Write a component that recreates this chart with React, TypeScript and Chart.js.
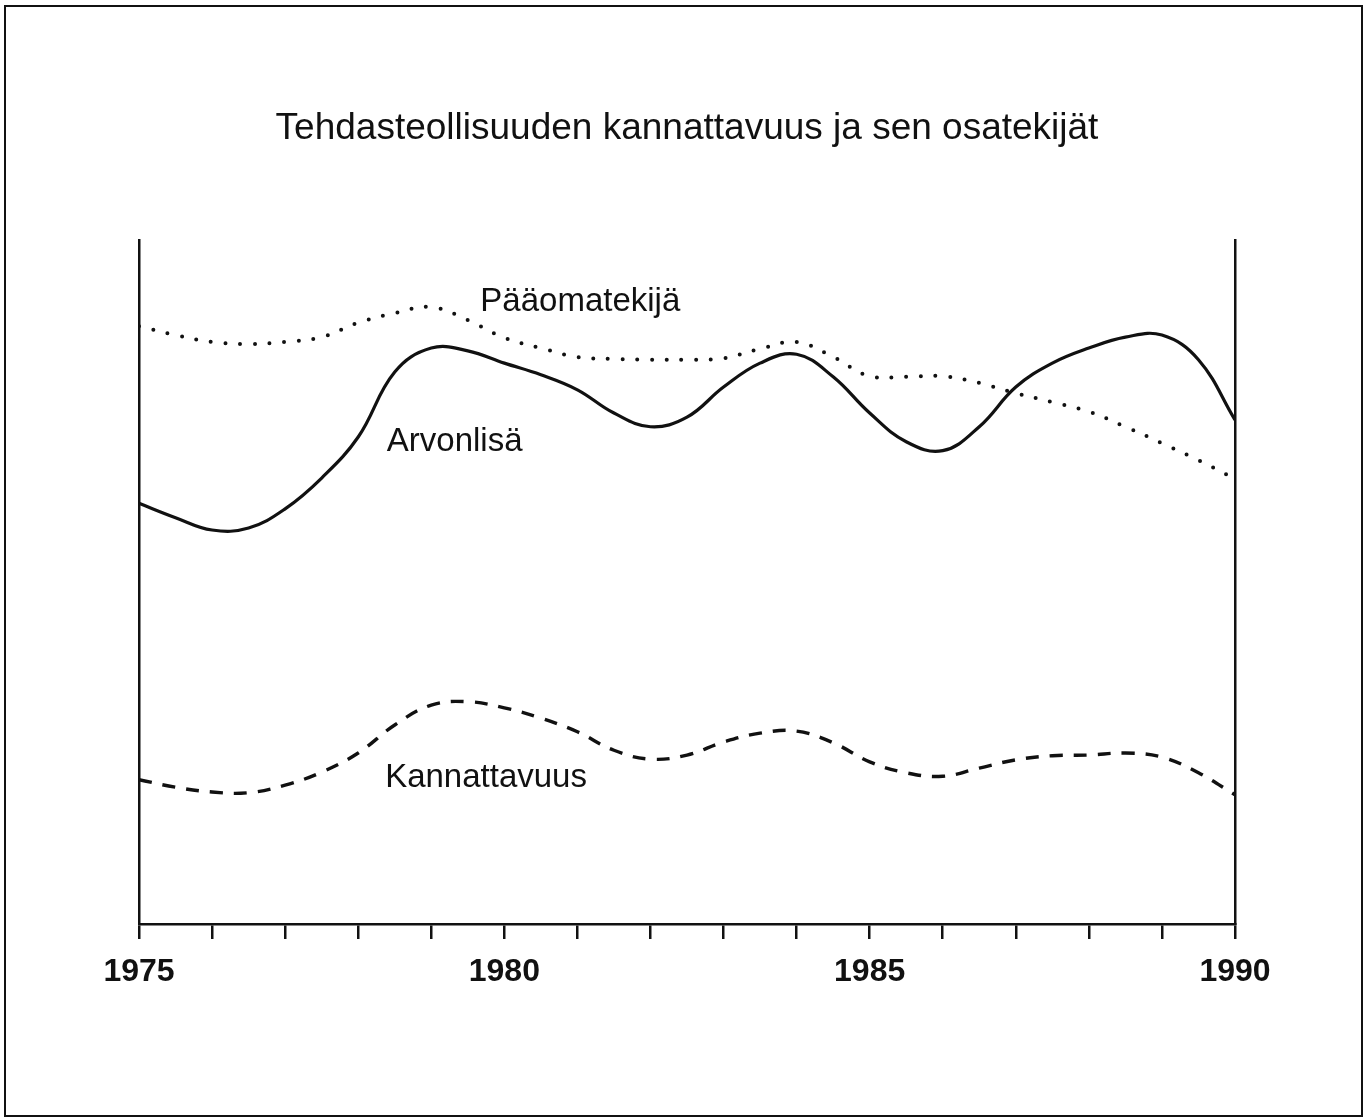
import React, { useEffect, useRef } from "react";
import { Chart, registerables } from "chart.js";

Chart.register(...registerables);

const TITLE = "Tehdasteollisuuden kannattavuus ja sen osatekijät";

const years = [
  1975, 1975.5, 1976, 1976.5, 1977, 1977.5, 1978, 1978.5, 1979, 1979.5,
  1980, 1980.5, 1981, 1981.5, 1982, 1982.5, 1983, 1983.5, 1984, 1984.5,
  1985, 1985.5, 1986, 1986.5, 1987, 1987.5, 1988, 1988.5, 1989, 1989.5, 1990,
];

// Index values (0 = x axis, 100 = top of the frame lines)
const arvonlisa = [
  61.5, 59.4, 57.6, 57.9, 60.7, 65.2, 71.2, 80.7, 84.2, 83.8,
  82.0, 80.3, 78.1, 74.7, 72.7, 74.1, 78.5, 82.0, 83.3, 80.0,
  74.7, 70.5, 69.2, 72.7, 78.5, 82.0, 84.2, 85.8, 86.1, 82.5, 73.7,
];

const paaomatekija = [
  87.4, 86.1, 85.1, 84.8, 85.1, 85.8, 87.9, 89.3, 90.2, 88.3,
  85.7, 84.2, 82.9, 82.6, 82.5, 82.5, 82.7, 84.1, 85.1, 82.9,
  80.1, 80.0, 80.1, 79.1, 77.6, 76.3, 74.9, 72.7, 70.3, 67.8, 65.1,
];

const kannattavuus = [
  21.1, 20.0, 19.3, 19.2, 20.3, 22.2, 25.0, 29.1, 32.0, 32.5,
  31.6, 30.1, 28.1, 25.4, 24.1, 24.7, 26.6, 27.9, 28.2, 26.5,
  23.7, 22.1, 21.6, 22.8, 24.0, 24.6, 24.7, 25.0, 24.4, 22.1, 18.9,
];

const majorTickLabels = [1975, 1980, 1985, 1990];

// In-chart series labels (data coordinates)
const seriesLabelNames = ["Pääomatekijä", "Arvonlisä", "Kannattavuus"];
const seriesLabelYears = [1981.04, 1979.32, 1979.75];
const seriesLabelValues = [90.9, 70.5, 21.3];

const FONT = "'Liberation Sans', Arial, Helvetica, sans-serif";
const INK = "#111111";
const W = 1367;
const H = 1120;

const decorPlugin = {
  id: "decor",
  beforeDraw(chart: any) {
    const ctx = chart.ctx;
    ctx.save();
    ctx.fillStyle = "#ffffff";
    ctx.fillRect(0, 0, chart.width, chart.height);
    ctx.strokeStyle = INK;
    ctx.lineWidth = 2;
    ctx.strokeRect(5, 6, 1357, 1110);
    ctx.fillStyle = INK;
    ctx.font = `normal 37px ${FONT}`;
    ctx.textAlign = "center";
    ctx.textBaseline = "middle";
    ctx.fillText(TITLE, 687, 129);
    ctx.restore();
  },
  afterDatasetsDraw(chart: any) {
    const ctx = chart.ctx;
    const xs = chart.scales.x;
    const ys = chart.scales.y;
    ctx.save();
    ctx.fillStyle = INK;
    ctx.font = `normal 33px ${FONT}`;
    ctx.textAlign = "center";
    ctx.textBaseline = "middle";
    seriesLabelNames.forEach((name, i) => {
      ctx.fillText(
        name,
        xs.getPixelForValue(seriesLabelYears[i]),
        ys.getPixelForValue(seriesLabelValues[i])
      );
    });
    ctx.restore();
  },
};

export default function App() {
  const canvasRef = useRef<HTMLCanvasElement | null>(null);

  useEffect(() => {
    if (!canvasRef.current) return;
    const toPoints = (arr: number[]) => years.map((x, i) => ({ x, y: arr[i] }));
    const chart = new Chart(canvasRef.current, {
      type: "line",
      data: {
        datasets: [
          {
            label: "Pääomatekijä",
            data: toPoints(paaomatekija),
            borderColor: INK,
            borderWidth: 4,
            borderDash: [0, 14.7],
            borderCapStyle: "round",
            pointRadius: 0,
            tension: 0.4,
            fill: false,
          },
          {
            label: "Arvonlisä",
            data: toPoints(arvonlisa),
            borderColor: INK,
            borderWidth: 3.2,
            pointRadius: 0,
            tension: 0.4,
            fill: false,
          },
          {
            label: "Kannattavuus",
            data: toPoints(kannattavuus),
            borderColor: INK,
            borderWidth: 3.4,
            borderDash: [13, 11],
            borderCapStyle: "butt",
            pointRadius: 0,
            tension: 0.4,
            fill: false,
          },
        ],
      },
      options: {
        animation: false,
        responsive: false,
        maintainAspectRatio: false,
        devicePixelRatio: 1,
        layout: { padding: { top: 240, left: 0, right: 0, bottom: 0 } },
        plugins: {
          legend: { display: false },
          tooltip: { enabled: false },
          title: { display: false },
        },
        scales: {
          x: {
            type: "linear",
            position: "bottom",
            min: 1975,
            max: 1990,
            afterFit(scale: any) {
              scale.height = H - 924;
            },
            ticks: {
              stepSize: 1,
              autoSkip: false,
              maxRotation: 0,
              minRotation: 0,
              padding: 14,
              color: INK,
              font: { family: FONT, size: 32, weight: "bold" },
              callback: (v: any) =>
                majorTickLabels.includes(Number(v)) ? String(v) : "",
            },
            grid: {
              display: true,
              drawOnChartArea: false,
              drawTicks: true,
              tickLength: 15,
              tickWidth: 2.5,
              tickColor: INK,
              color: INK,
              lineWidth: 2.5,
            },
            border: { display: true, color: INK, width: 2.5 },
          },
          y: {
            type: "linear",
            position: "left",
            min: 0,
            max: 100,
            afterFit(scale: any) {
              scale.width = 139;
            },
            ticks: { display: false },
            grid: { display: false, drawTicks: false },
            border: { display: true, color: INK, width: 2.5 },
          },
          y2: {
            type: "linear",
            position: "right",
            min: 0,
            max: 100,
            afterFit(scale: any) {
              scale.width = W - 1235;
            },
            ticks: { display: false },
            grid: { display: false, drawTicks: false },
            border: { display: true, color: INK, width: 2.5 },
          },
        },
      } as any,
      plugins: [decorPlugin],
    });
    return () => chart.destroy();
  }, []);

  return (
    <div
      style={{
        position: "absolute",
        left: 0,
        top: 0,
        width: W,
        height: H,
        background: "#ffffff",
      }}
    >
      <canvas
        ref={canvasRef}
        width={W}
        height={H}
        style={{ display: "block", width: W, height: H }}
      />
    </div>
  );
}
